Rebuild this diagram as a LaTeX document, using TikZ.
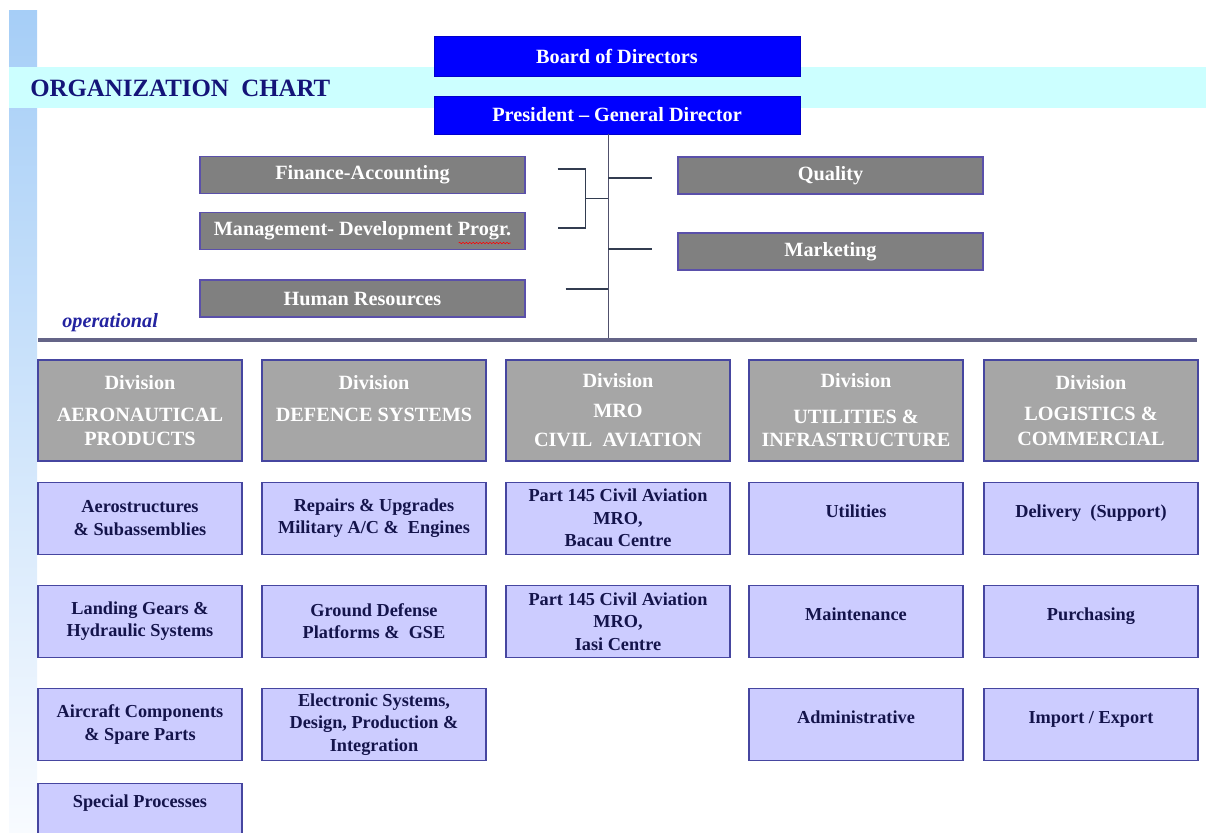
\documentclass[tikz,border=0pt]{standalone}
\usepackage{fontspec}
\setmainfont{Liberation Serif}
\usepackage{xcolor}
\usepackage{tikz}
\usetikzlibrary{positioning, calc, decorations.pathmorphing}
\definecolor{myblue}{RGB}{0,0,255}
\definecolor{mynavy}{RGB}{20,20,120}
\definecolor{myindigo}{RGB}{35,35,160}
\definecolor{mytext}{RGB}{20,20,75}
\definecolor{mybar}{RGB}{166,206,247}
\definecolor{mybarlight}{RGB}{248,251,255}
\definecolor{mycyan}{RGB}{204,255,255}
\definecolor{staffgray}{RGB}{128,128,128}
\definecolor{divgray}{RGB}{166,166,166}
\definecolor{sublav}{RGB}{204,204,255}
\definecolor{staffframe}{RGB}{90,80,170}
\definecolor{divframe}{RGB}{70,70,160}
\definecolor{linkgray}{RGB}{50,60,80}
\definecolor{rulegray}{RGB}{100,100,135}
\tikzset{
  topbox/.style={rectangle, draw=myblue!80!black, fill=myblue, text=white,
    minimum width=9.15cm, minimum height=1cm,
    font=\fontsize{14.4}{17}\selectfont\bfseries, line width=0.6pt},
  staffbox/.style={rectangle, draw=staffframe, fill=staffgray, text=white,
    minimum height=0.925cm,
    font=\fontsize{14.4}{17}\selectfont\bfseries, line width=0.9pt},
  divbox/.style={rectangle, draw=divframe, fill=divgray, text=white,
    align=center, minimum height=2.525cm,
    font=\fontsize{14.4}{17}\selectfont\bfseries, line width=0.8pt},
  subbox/.style={rectangle, draw=divframe, fill=sublav, text=mytext,
    align=center, minimum height=1.8cm,
    font=\fontsize{13}{16}\selectfont\bfseries, line width=0.8pt},
  oneline/.style={text depth=10pt},
  link/.style={color=linkgray, line width=0.8pt},
  trunk/.style={color=rulegray!80!black, line width=0.6pt},
  rule/.style={color=rulegray, line width=2.4pt}
}

\begin{document}
\begin{tikzpicture}
  \useasboundingbox (0,0) rectangle (30.15,-20.8);

  % Background bars
  \shade[top color=mybar, bottom color=mybarlight] (0.225,-0.25) rectangle (0.925,-20.8);
  \fill[mycyan] (0.225,-1.675) rectangle (30.15,-2.7);

  % Title
  \node[anchor=west, inner sep=0, text=mynavy, font=\fontsize{17.7}{20}\selectfont\bfseries]
    (title) at (0.75,-2.2) {ORGANIZATION~ CHART};

  % Top management
  \node[topbox] (board) at (15.425,-1.4125) {Board of Directors};
  \node[topbox, minimum height=0.95cm] (pres) at (15.425,-2.875) {President -- General Director};

  % Staff departments
  \node[staffbox, minimum width=8.125cm] (fin) at (9.0625,-4.375) {Finance-Accounting};
  \node[staffbox, minimum width=8.125cm] (mgmt) at (9.0625,-5.775) {Management- Development Progr.};
  \node[staffbox, minimum width=8.125cm] (hr) at (9.0625,-7.4625) {Human Resources};
  \node[staffbox, minimum width=7.625cm] (qual) at (20.7625,-4.3875) {Quality};
  \node[staffbox, minimum width=7.625cm] (mkt) at (20.7625,-6.2875) {Marketing};

  % Spell check mark
  \draw[red, line width=0.4pt, decorate, decoration={snake, amplitude=0.5pt, segment length=2.4pt}]
    ($(mgmt.east)+(-1.675,-0.3)$) -- ($(mgmt.east)+(-0.375,-0.3)$);

  % Operational line
  \coordinate (sepL) at (0.95,-8.5);
  \coordinate (sepR) at (29.925,-8.5);
  \node[anchor=base west, inner sep=0, text=myindigo, font=\fontsize{14.4}{17}\selectfont\bfseries\itshape]
    (oper) at (1.55,-8.175) {operational};

  % Trunk and links
  \coordinate (tk) at ($(pres.south)+(-0.225,0)$);
  \draw[trunk] (tk) -- (tk |- sepL);
  \draw[rule] (sepL) -- (sepR);

  \coordinate (brA) at ($(fin.east)+(0.8,0.15)$);
  \coordinate (brB) at ($(mgmt.east)+(0.8,0.075)$);
  \coordinate (brM) at ($(brA)!0.5!(brB)+(0.7,0)$);
  \draw[link] (brA) -- ++(0.7,0) |- (brB);
  \draw[link] (brM) -- (brM -| tk);

  \coordinate (hrL) at ($(hr.east)+(1,0.2375)$);
  \draw[link] (hrL) -- (hrL -| tk);
  \coordinate (qR) at ($(qual.west)+(-0.625,-0.0625)$);
  \draw[link] (qR -| tk) -- (qR);
  \coordinate (mR) at ($(mkt.west)+(-0.625,0.0625)$);
  \draw[link] (mR -| tk) -- (mR);

  % Divisions
  \node[divbox, minimum width=5.1cm] (d1) at (3.5,-10.2625)
    {Division\\[6pt]AERONAUTICAL\\PRODUCTS};
  \node[divbox, minimum width=5.6cm] (d2) at (9.35,-10.2625)
    {Division\\[6pt]DEFENCE SYSTEMS\\\mbox{}};
  \node[divbox, minimum width=5.6cm] (d3) at (15.45,-10.2625)
    {Division\\[4pt]MRO\\[4pt]CIVIL~ AVIATION};
  \node[divbox, minimum width=5.35cm] (d4) at (21.4,-10.2625)
    {Division\\[8pt]UTILITIES \&\\INFRASTRUCTURE};
  \node[divbox, minimum width=5.35cm] (d5) at (27.275,-10.2625)
    {Division\\[5pt]LOGISTICS \&\\[1pt]COMMERCIAL};

  % Aeronautical products
  \node[subbox, minimum width=5.1cm, below=0.5cm of d1] (a1) {Aerostructures\\\& Subassemblies};
  \node[subbox, minimum width=5.1cm, below=0.75cm of a1] (a2) {Landing Gears \&\\Hydraulic Systems};
  \node[subbox, minimum width=5.1cm, below=0.75cm of a2] (a3) {Aircraft Components\\\& Spare Parts};
  \node[subbox, minimum width=5.1cm, below=0.55cm of a3, text depth=26pt] (a4) {Special Processes};

  % Defence systems
  \node[subbox, minimum width=5.6cm, below=0.5cm of d2] (b1) {Repairs \& Upgrades\\Military A/C \&~ Engines};
  \node[subbox, minimum width=5.6cm, below=0.75cm of b1] (b2) {Ground Defense\\Platforms \&~ GSE};
  \node[subbox, minimum width=5.6cm, below=0.75cm of b2] (b3) {Electronic Systems,\\Design, Production \&\\Integration};

  % MRO civil aviation
  \node[subbox, minimum width=5.6cm, below=0.5cm of d3] (c1) {Part 145 Civil Aviation\\MRO,\\Bacau Centre};
  \node[subbox, minimum width=5.6cm, below=0.75cm of c1] (c2) {Part 145 Civil Aviation\\MRO,\\Iasi Centre};

  % Utilities and infrastructure
  \node[subbox, oneline, minimum width=5.35cm, below=0.5cm of d4] (u1) {Utilities};
  \node[subbox, oneline, minimum width=5.35cm, below=0.75cm of u1] (u2) {Maintenance};
  \node[subbox, oneline, minimum width=5.35cm, below=0.75cm of u2] (u3) {Administrative};

  % Logistics and commercial
  \node[subbox, oneline, minimum width=5.35cm, below=0.5cm of d5] (l1) {Delivery~ (Support)};
  \node[subbox, oneline, minimum width=5.35cm, below=0.75cm of l1] (l2) {Purchasing};
  \node[subbox, oneline, minimum width=5.35cm, below=0.75cm of l2] (l3) {Import / Export};
\end{tikzpicture}
\end{document}
